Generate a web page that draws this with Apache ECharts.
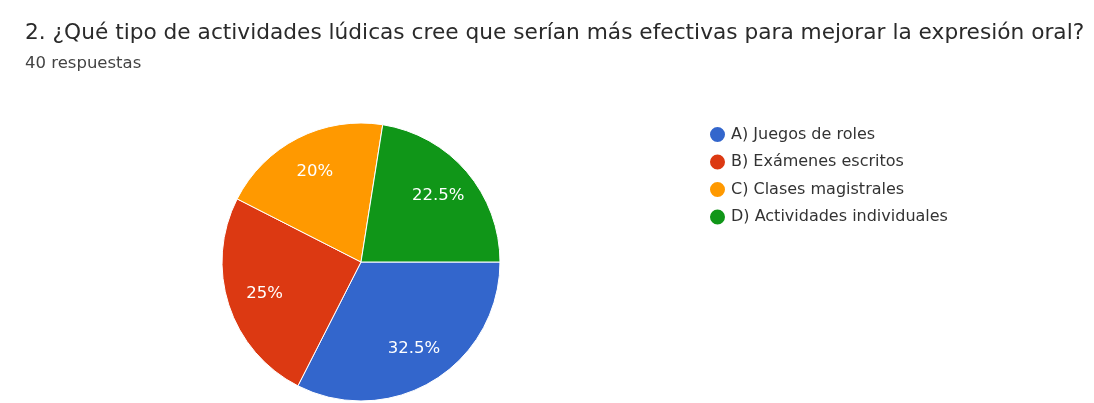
<!DOCTYPE html>
<html>
<head>
<meta charset="utf-8">
<script src="https://cdn.jsdelivr.net/npm/echarts@6/dist/echarts.min.js"></script>
<style>
  html, body { margin: 0; padding: 0; background: #fff; }
  #chart { width: 1094px; height: 403px; }
</style>
</head>
<body>
<div id="chart"></div>
<script>
// Survey question, answer options and their shares of the 40 responses
const questionTitle = '2. ¿Qué tipo de actividades lúdicas cree que serían más efectivas para mejorar la expresión oral?';
const responseCount = '40 respuestas';
const categories = ['A) Juegos de roles', 'B) Exámenes escritos', 'C) Clases magistrales', 'D) Actividades individuales'];
const percentages = [32.5, 25, 20, 22.5];
const sliceColors = ['#3366cc', '#dc3912', '#ff9900', '#109618'];

const pieData = categories.map((name, i) => ({ name, value: percentages[i] }));
const fontFamily = '"DejaVu Sans", Roboto, Arial, sans-serif';

const chart = echarts.init(document.getElementById('chart'), null, { renderer: 'canvas' });
chart.setOption({
  animation: false,
  color: sliceColors,
  title: {
    text: questionTitle,
    subtext: responseCount,
    left: 20,
    top: 17,
    itemGap: 11,
    textStyle: { fontFamily, fontSize: 21.7, fontWeight: 'normal', color: '#2a2a2a' },
    subtextStyle: { fontFamily, fontSize: 16.5, color: '#444444' }
  },
  legend: {
    orient: 'vertical',
    left: 703,
    top: 120,
    icon: 'circle',
    itemWidth: 17,
    itemHeight: 17,
    itemGap: 8.5,
    selectedMode: false,
    data: categories,
    textStyle: { fontFamily, fontSize: 16, color: '#333333' }
  },
  series: [
    {
      type: 'pie',
      center: [361, 262],
      radius: [0, 139],
      startAngle: 0,
      clockwise: true,
      silent: true,
      data: pieData,
      itemStyle: { borderColor: '#ffffff', borderWidth: 1 },
      label: { show: false },
      labelLine: { show: false }
    },
    {
      // transparent ring that only carries the percentage labels
      type: 'pie',
      center: [361, 262],
      radius: [58, 139],
      startAngle: 0,
      clockwise: true,
      silent: true,
      data: pieData,
      itemStyle: { color: 'rgba(0,0,0,0)', borderWidth: 0 },
      label: {
        show: true,
        position: 'inside',
        formatter: p => p.value + '%',
        color: '#ffffff',
        fontFamily,
        fontSize: 16.5
      },
      labelLine: { show: false }
    }
  ]
});
</script>
</body>
</html>
